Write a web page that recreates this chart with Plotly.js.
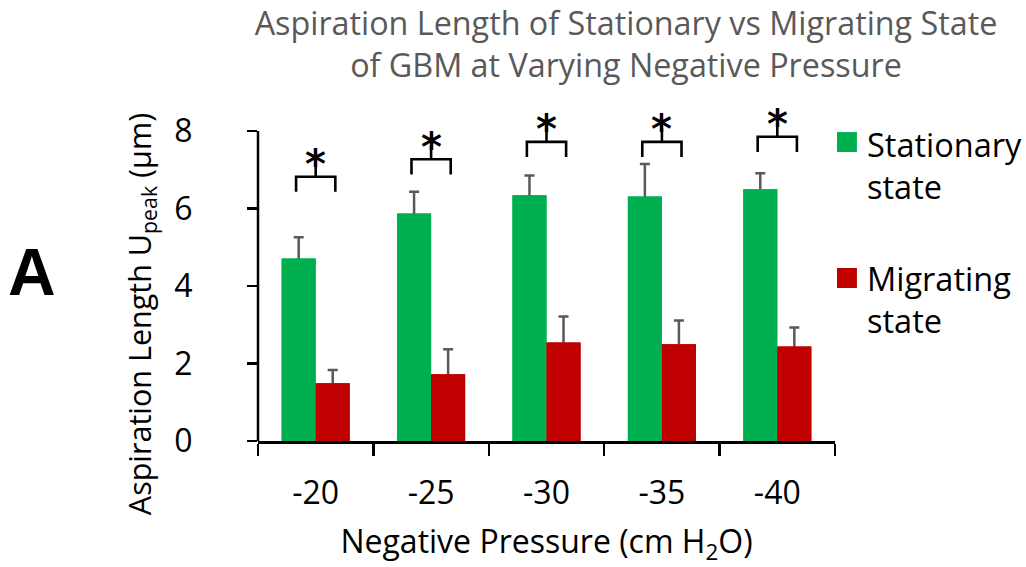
<!DOCTYPE html>
<html>
<head>
<meta charset="utf-8">
<script src="https://cdn.plot.ly/plotly-3.0.1.min.js"></script>
<style>html,body{margin:0;padding:0;background:#fff;}#chart{width:1026px;height:567px;}</style>
</head>
<body>
<div id="chart"></div>
<script>
// ---- data ----
const categories = ['-20', '-25', '-30', '-35', '-40'];
const stationary = [4.71, 5.87, 6.34, 6.31, 6.50];
const stationaryErr = [0.55, 0.56, 0.51, 0.84, 0.41];
const migrating = [1.49, 1.72, 2.54, 2.50, 2.44];
const migratingErr = [0.34, 0.65, 0.67, 0.61, 0.49];
const bracketLevel = [6.82, 7.27, 7.72, 7.72, 7.85];
const sigLabels = ['*', '*', '*', '*', '*'];
const yTicks = [0, 2, 4, 6, 8];
const seriesNames = ['Stationary<br>state', 'Migrating<br>state'];
const seriesColors = ['#00B050', '#C00000'];

const FONT = 'Open Sans, sans-serif';
const errStyle = {type: 'data', symmetric: true, visible: true, color: '#595959', thickness: 2.5, width: 5};

// Error bars are drawn on the first pair of traces; an identical bar pair in the
// same offset groups is drawn over them so only the upper half of each bar shows.
const traces = [
  {type: 'bar', name: 'Stationary state', x: categories, y: stationary, offsetgroup: 's',
   marker: {color: seriesColors[0]}, error_y: Object.assign({array: stationaryErr}, errStyle)},
  {type: 'bar', name: 'Migrating state', x: categories, y: migrating, offsetgroup: 'm',
   marker: {color: seriesColors[1]}, error_y: Object.assign({array: migratingErr}, errStyle)},
  {type: 'bar', name: 'Stationary state', x: categories, y: stationary, offsetgroup: 's',
   marker: {color: seriesColors[0]}},
  {type: 'bar', name: 'Migrating state', x: categories, y: migrating, offsetgroup: 'm',
   marker: {color: seriesColors[1]}}
];

// significance brackets
const half = 0.17, drop = 0.39, stem = 0.35;
const shapes = [];
const annotations = [];
categories.forEach((c, i) => {
  const lv = bracketLevel[i];
  const line = {color: '#000', width: 2.6};
  shapes.push({type: 'path', xref: 'x', yref: 'y',
    path: `M ${i - half} ${lv - drop} L ${i - half} ${lv} L ${i + half} ${lv} L ${i + half} ${lv - drop}`,
    line: line});
  shapes.push({type: 'line', xref: 'x', yref: 'y', x0: i, x1: i, y0: lv, y1: lv + stem, line: line});
  annotations.push({xref: 'x', yref: 'y', x: i, y: lv + stem, text: '<b>' + sigLabels[i] + '</b>', showarrow: false,
    xanchor: 'center', yanchor: 'bottom', yshift: -26,
    font: {family: 'DejaVu Sans, sans-serif', size: 40, color: '#000'}});
});

// y axis line from 0 to top tick
shapes.push({type: 'line', xref: 'paper', yref: 'y', x0: 0, x1: 0, y0: 0, y1: yTicks[yTicks.length - 1],
  line: {color: '#000', width: 2.5}});

// legend (manual, to match reference sizes)
const legendY = [0.809, 0.4135];
const squareY = [[0.8475, 0.906], [0.4487, 0.5073]];
seriesNames.forEach((n, k) => {
  shapes.push({type: 'rect', xref: 'paper', yref: 'paper', x0: 1.0035, x1: 1.038,
    y0: squareY[k][0], y1: squareY[k][1], fillcolor: seriesColors[k], line: {width: 0}});
  annotations.push({xref: 'paper', yref: 'paper', x: 1.052, y: legendY[k], xanchor: 'left', yanchor: 'middle',
    align: 'left', text: n, showarrow: false, font: {family: FONT, size: 32.5, color: '#000'}});
});

// y axis title
annotations.push({xref: 'paper', yref: 'paper', x: -0.2045, y: 0.372, xanchor: 'center', yanchor: 'middle',
  textangle: -90, showarrow: false,
  text: 'Aspiration Length U<sub>peak</sub> (μm)', font: {family: FONT, size: 30.5, color: '#000'}});
// panel letter
annotations.push({xref: 'paper', yref: 'paper', x: -0.3917, y: 0.4956, xanchor: 'center', yanchor: 'middle',
  showarrow: false, text: '<b>A</b>',
  font: {family: 'Liberation Sans, Arial, sans-serif', size: 66, color: '#000'}});

const layout = {
  width: 1026, height: 567,
  margin: {l: 258, r: 191, t: 100, b: 126},
  paper_bgcolor: '#fff', plot_bgcolor: '#fff',
  showlegend: false,
  barmode: 'group', bargap: 0.41, bargroupgap: 0,
  font: {family: FONT, color: '#000'},
  title: {text: 'Aspiration Length of Stationary vs Migrating State<br>of GBM at Varying Negative Pressure',
    x: 626 / 1026, xanchor: 'center', xref: 'container', y: 0.938, yanchor: 'top', yref: 'container',
    font: {family: FONT, size: 32.3, color: '#595959'}},
  xaxis: {type: 'category', showline: true, linecolor: '#000', linewidth: 2.5,
    ticks: 'outside', tickson: 'boundaries', ticklen: 12, tickwidth: 2.5, tickcolor: '#000',
    ticklabelstandoff: 22,
    tickfont: {family: FONT, size: 32, color: '#000'}, showgrid: false, zeroline: false,
    title: {text: 'Negative Pressure (cm H<sub>2</sub>O)', standoff: 22, font: {family: FONT, size: 32, color: '#000'}}},
  yaxis: {range: [0, 8.8], tickvals: yTicks, ticktext: yTicks.map(String), showline: false,
    ticks: 'outside', ticklen: 10, tickwidth: 2.5, tickcolor: '#000', ticklabelstandoff: 48,
    tickfont: {family: FONT, size: 32, color: '#000'}, showgrid: false, zeroline: false},
  shapes: shapes,
  annotations: annotations
};

Plotly.newPlot('chart', traces, layout, {displayModeBar: false, staticPlot: true});
</script>
</body>
</html>
